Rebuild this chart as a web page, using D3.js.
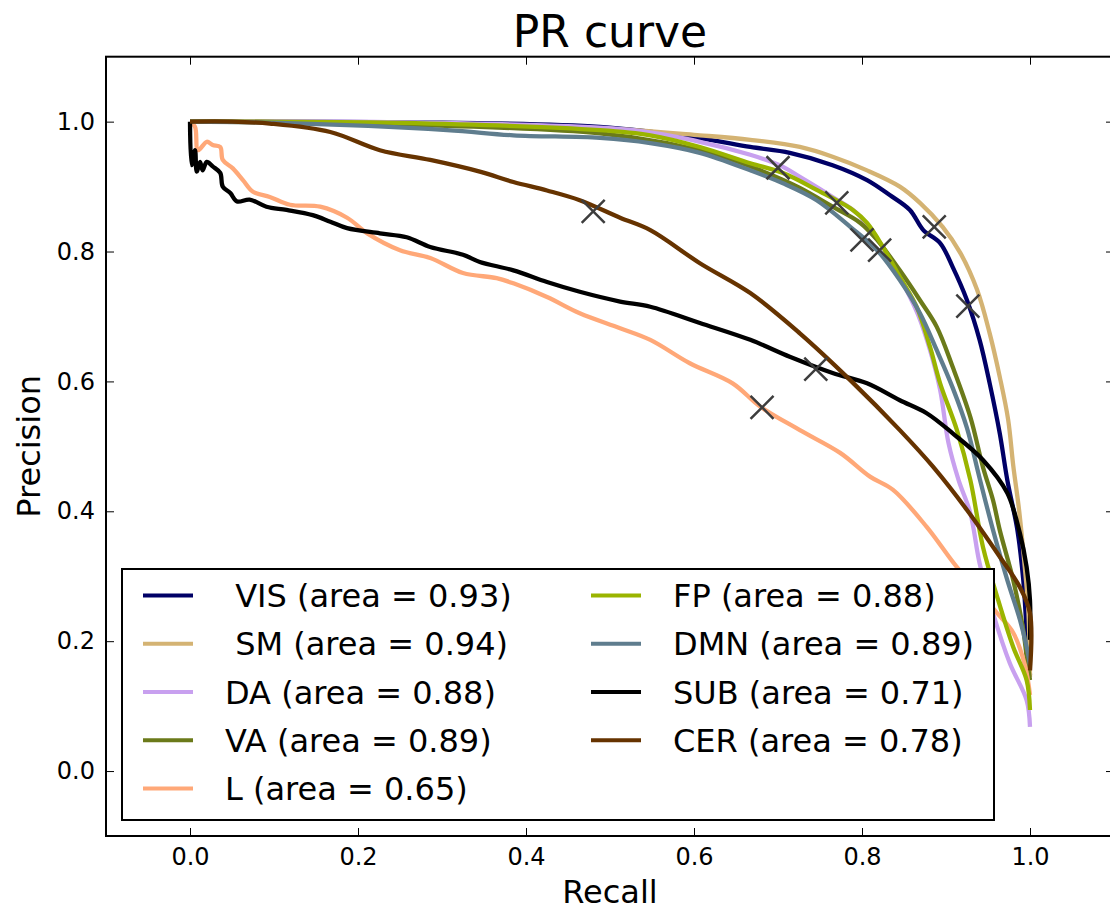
<!DOCTYPE html>
<html>
<head>
<meta charset="utf-8">
<script src="https://cdn.jsdelivr.net/npm/d3@7"></script>
<style>
  body { margin: 0; background: #fff; }
  svg { display: block; font-family: "DejaVu Sans", sans-serif; }
</style>
</head>
<body>
<svg id="chart" width="1110" height="911"></svg>
<script>
// PR curves, [recall, precision]
const VIS = [[0,1.0],[0.25,0.999],[0.488,0.992],[0.604,0.975],[0.667,0.961],[0.714,0.952],[0.765,0.933],[0.806,0.910],[0.833,0.887],[0.857,0.864],[0.873,0.833],[0.893,0.813],[0.908,0.776],[0.925,0.725],[0.940,0.664],[0.952,0.597],[0.964,0.520],[0.973,0.448],[0.985,0.371],[0.992,0.294],[0.996,0.217],[1.0,0.148]]
const SM = [[0,1.0],[0.25,0.998],[0.488,0.990],[0.607,0.979],[0.667,0.972],[0.726,0.961],[0.765,0.946],[0.806,0.925],[0.845,0.900],[0.869,0.875],[0.896,0.838],[0.917,0.798],[0.937,0.741],[0.952,0.674],[0.964,0.607],[0.974,0.541],[0.980,0.471],[0.987,0.402],[0.993,0.325],[0.998,0.248],[1.0,0.145]]
const DA = [[0,1.0],[0.25,0.999],[0.527,0.987],[0.607,0.969],[0.667,0.949],[0.702,0.933],[0.726,0.915],[0.765,0.884],[0.794,0.859],[0.813,0.828],[0.831,0.795],[0.849,0.751],[0.867,0.702],[0.881,0.648],[0.893,0.587],[0.903,0.505],[0.915,0.448],[0.929,0.397],[0.940,0.320],[0.956,0.243],[0.976,0.166],[0.996,0.109],[1.0,0.068]]
const VA = [[0,1.0],[0.25,0.996],[0.488,0.982],[0.568,0.967],[0.631,0.947],[0.679,0.925],[0.726,0.898],[0.765,0.869],[0.798,0.844],[0.818,0.818],[0.845,0.771],[0.869,0.725],[0.889,0.684],[0.908,0.622],[0.929,0.545],[0.944,0.468],[0.956,0.417],[0.964,0.371],[0.980,0.294],[0.992,0.217],[0.996,0.176],[1.0,0.140]]
const L = [[0,1.0],[0.006,0.992],[0.0095,0.956],[0.020,0.969],[0.027,0.964],[0.036,0.961],[0.039,0.941],[0.051,0.928],[0.063,0.910],[0.075,0.892],[0.095,0.884],[0.119,0.872],[0.155,0.869],[0.187,0.852],[0.211,0.828],[0.250,0.802],[0.286,0.790],[0.325,0.767],[0.365,0.759],[0.385,0.751],[0.425,0.730],[0.464,0.705],[0.512,0.682],[0.548,0.664],[0.595,0.628],[0.646,0.597],[0.679,0.561],[0.726,0.525],[0.774,0.490],[0.810,0.453],[0.837,0.433],[0.877,0.376],[0.913,0.314],[0.940,0.276],[0.961,0.243],[0.980,0.213],[0.994,0.163],[1.0,0.117]]
const FP = [[0,1.0],[0.25,0.998],[0.488,0.987],[0.548,0.979],[0.607,0.961],[0.667,0.936],[0.706,0.921],[0.746,0.895],[0.789,0.864],[0.806,0.844],[0.825,0.807],[0.845,0.761],[0.865,0.715],[0.881,0.653],[0.893,0.597],[0.913,0.525],[0.929,0.448],[0.944,0.345],[0.961,0.268],[0.980,0.191],[0.996,0.140],[1.0,0.094]]
const DMN = [[0,1.0],[0.107,0.998],[0.306,0.987],[0.385,0.979],[0.488,0.975],[0.548,0.967],[0.607,0.952],[0.667,0.925],[0.706,0.905],[0.746,0.879],[0.786,0.838],[0.818,0.802],[0.845,0.756],[0.869,0.705],[0.889,0.648],[0.908,0.590],[0.925,0.528],[0.940,0.451],[0.956,0.371],[0.973,0.294],[0.988,0.233],[0.996,0.191],[1.0,0.163]]
const SUB = [[0,1.0],[0.002,0.933],[0.006,0.956],[0.008,0.923],[0.012,0.938],[0.015,0.925],[0.020,0.938],[0.027,0.931],[0.036,0.921],[0.039,0.900],[0.048,0.890],[0.056,0.877],[0.071,0.880],[0.091,0.869],[0.115,0.864],[0.146,0.856],[0.167,0.846],[0.187,0.836],[0.226,0.828],[0.258,0.822],[0.286,0.807],[0.325,0.795],[0.345,0.784],[0.385,0.771],[0.425,0.753],[0.464,0.738],[0.512,0.723],[0.548,0.715],[0.607,0.690],[0.667,0.664],[0.714,0.638],[0.765,0.613],[0.806,0.597],[0.845,0.571],[0.877,0.551],[0.908,0.520],[0.944,0.479],[0.973,0.428],[0.988,0.366],[0.996,0.314],[1.0,0.263],[1.0,0.202]]
const CER = [[0,1.0],[0.05,1.0],[0.095,0.997],[0.167,0.984],[0.226,0.956],[0.286,0.941],[0.345,0.923],[0.385,0.907],[0.425,0.894],[0.464,0.879],[0.512,0.852],[0.548,0.833],[0.607,0.782],[0.667,0.736],[0.726,0.674],[0.786,0.602],[0.845,0.525],[0.885,0.468],[0.925,0.402],[0.964,0.330],[0.988,0.283],[1.0,0.243],[1.0,0.155]]

const seriesNames = ["VIS", "SM", "DA", "VA", "L", "FP", "DMN", "SUB", "CER"]
const seriesData = [VIS, SM, DA, VA, L, FP, DMN, SUB, CER]
const seriesColors = ["#000066", "#d4b373", "#c8a0ef", "#6b7a1a", "#ffa878", "#9ab400", "#5f7d8e", "#000000", "#663300"]
const legendLabels = [" VIS (area = 0.93)", " SM (area = 0.94)", "DA (area = 0.88)", "VA (area = 0.89)", "L (area = 0.65)",
                      "FP (area = 0.88)", "DMN (area = 0.89)", "SUB (area = 0.71)", "CER (area = 0.78)"]

// operating points (crosses), same order as the series
const markerRecall = [0.926, 0.886, 0.700, 0.821, 0.681, 0.770, 0.800, 0.745, 0.480]
const markerPrecision = [0.716, 0.838, 0.929, 0.802, 0.560, 0.875, 0.818, 0.619, 0.862]

const tickValues = [0.0, 0.2, 0.4, 0.6, 0.8, 1.0]

const svg = d3.select("#chart")
const plotLeft = 106, plotRight = 1114, plotTop = 56.7, plotBottom = 836

const x = d3.scaleLinear().domain([-0.1, 1.1]).range([plotLeft, plotRight])
const y = d3.scaleLinear().domain([-0.1, 1.1]).range([plotBottom, plotTop])

svg.append("defs").append("clipPath").attr("id", "plotClip")
    .append("rect").attr("x", plotLeft).attr("y", plotTop)
    .attr("width", plotRight - plotLeft).attr("height", plotBottom - plotTop)

const plot = svg.append("g").attr("clip-path", "url(#plotClip)")

const line = d3.line()
    .x(d => x(d[0]))
    .y(d => y(d[1]))
    .curve(d3.curveCatmullRom.alpha(0.5))

plot.selectAll("path.curve")
    .data(seriesData)
    .join("path")
    .attr("class", "curve")
    .attr("d", line)
    .attr("fill", "none")
    .attr("stroke", (d, i) => seriesColors[i])
    .attr("stroke-width", 4.3)
    .attr("stroke-linejoin", "round")

const s = 11.5
plot.selectAll("path.mark")
    .data(markerRecall)
    .join("path")
    .attr("class", "mark")
    .attr("transform", (d, i) => `translate(${x(d)},${y(markerPrecision[i])})`)
    .attr("d", `M${-s},${-s}L${s},${s}M${-s},${s}L${s},${-s}`)
    .attr("stroke", "#3d3d3d")
    .attr("stroke-width", 2.5)

// legend
const legend = plot.append("g")
legend.append("rect")
    .attr("x", 122).attr("y", 569).attr("width", 872).attr("height", 251)
    .attr("fill", "#fff").attr("stroke", "#000").attr("stroke-width", 2)

const rowH = 48.25
const entries = legend.selectAll("g.entry")
    .data(legendLabels)
    .join("g")
    .attr("class", "entry")
    .attr("transform", (d, i) => `translate(${i < 5 ? 143 : 591},${595.5 + (i < 5 ? i : i - 5) * rowH})`)

entries.append("line")
    .attr("x1", 0).attr("x2", 50)
    .attr("stroke", (d, i) => seriesColors[i])
    .attr("stroke-width", 4)

entries.append("text")
    .attr("x", 82).attr("y", 11.5)
    .attr("xml:space", "preserve")
    .style("white-space", "pre")
    .attr("font-size", 32)
    .attr("fill", "#000")
    .text(d => d)

// axes, ticks pointing inward on all four sides
const fmt = d3.format(".1f")
const axisStyle = g => {
    g.select(".domain").remove()
    g.selectAll(".tick line").attr("stroke", "#000")
    g.selectAll(".tick text").attr("font-size", 24).attr("fill", "#000").attr("font-family", "DejaVu Sans")
}

svg.append("g").attr("transform", `translate(0,${plotBottom})`)
    .call(d3.axisBottom(x).tickValues(tickValues).tickFormat(fmt).tickSize(-8).tickPadding(12))
    .call(axisStyle)
svg.append("g").attr("transform", `translate(0,${plotTop})`)
    .call(d3.axisTop(x).tickValues(tickValues).tickFormat("").tickSize(-8))
    .call(axisStyle)
svg.append("g").attr("transform", `translate(${plotLeft},0)`)
    .call(d3.axisLeft(y).tickValues(tickValues).tickFormat(fmt).tickSize(-8).tickPadding(11))
    .call(axisStyle)
svg.append("g").attr("transform", `translate(${plotRight},0)`)
    .call(d3.axisRight(y).tickValues(tickValues).tickFormat("").tickSize(-8))
    .call(axisStyle)

svg.append("rect")
    .attr("x", plotLeft).attr("y", plotTop)
    .attr("width", plotRight - plotLeft).attr("height", plotBottom - plotTop)
    .attr("fill", "none").attr("stroke", "#000").attr("stroke-width", 2)

// titles
svg.append("text").attr("x", (plotLeft + plotRight) / 2).attr("y", 47)
    .attr("text-anchor", "middle").attr("font-size", 44).text("PR curve")
svg.append("text").attr("x", (plotLeft + plotRight) / 2).attr("y", 903)
    .attr("text-anchor", "middle").attr("font-size", 32).text("Recall")
svg.append("text")
    .attr("transform", `translate(40,${(plotTop + plotBottom) / 2}) rotate(-90)`)
    .attr("text-anchor", "middle").attr("font-size", 32).text("Precision")
</script>
</body>
</html>
